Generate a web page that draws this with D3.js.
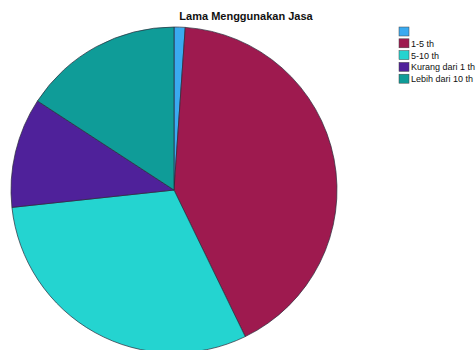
<!DOCTYPE html>
<html>
<head>
<meta charset="utf-8">
<script src="https://cdn.jsdelivr.net/npm/d3@7"></script>
<style>
  body { margin: 0; background: #fff; }
  svg { display: block; font-family: "Liberation Sans", Arial, sans-serif; }
</style>
</head>
<body>
<div class="canvas"></div>
<script>
const categories = ['', '1-5 th', '5-10 th', 'Kurang dari 1 th', 'Lebih dari 10 th'];
const values = [1.1, 41.7, 30.5, 10.9, 15.8];
const colors = ['#3aaaf0', '#9e1a4f', '#24d4d0', '#4f219a', '#0f9c98'];

const width = 476;
const height = 350;
const center = { x: 174, y: 190 };
const radius = 163;

const data = categories.map((name, i) => ({ name, value: values[i] }));

const color = d3.scaleOrdinal().domain(categories).range(colors);

const svg = d3.select('.canvas')
  .append('svg')
  .attr('width', width)
  .attr('height', height);

svg.append('text')
  .attr('x', 246)
  .attr('y', 20)
  .attr('text-anchor', 'middle')
  .attr('font-size', 11)
  .attr('font-weight', 'bold')
  .attr('fill', '#111')
  .text('Lama Menggunakan Jasa');

const graph = svg.append('g')
  .attr('transform', `translate(${center.x}, ${center.y})`);

const pie = d3.pie().sort(null).value(d => d.value);
const arc = d3.arc().innerRadius(0).outerRadius(radius);

graph.selectAll('path')
  .data(pie(data))
  .join('path')
  .attr('d', arc)
  .attr('fill', d => color(d.data.name))
  .attr('stroke', '#2a2a3a')
  .attr('stroke-width', 0.7);

// legend
const legendGroup = svg.append('g')
  .attr('transform', 'translate(399, 27)');

const rows = legendGroup.selectAll('g')
  .data(categories)
  .join('g')
  .attr('transform', (d, i) => `translate(0, ${i * 11.8})`);

rows.append('rect')
  .attr('width', 10)
  .attr('height', 9)
  .attr('fill', d => color(d))
  .attr('stroke', '#444')
  .attr('stroke-width', 0.5);

rows.append('text')
  .attr('x', 12)
  .attr('y', 8)
  .attr('font-size', 9)
  .attr('fill', '#111')
  .text(d => d);
</script>
</body>
</html>
